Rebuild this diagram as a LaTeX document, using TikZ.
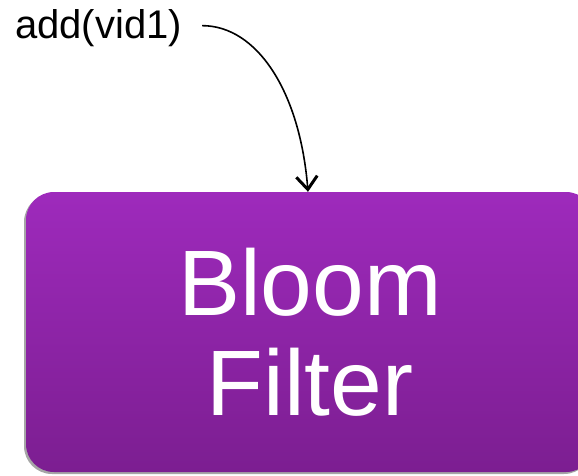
\documentclass[tikz,border=0pt]{standalone}
\usepackage{fontspec}
\setmainfont{Liberation Sans}
\usetikzlibrary{arrows.meta,shadows}

\definecolor{filtertop}{RGB}{158,42,188}
\definecolor{filterbot}{RGB}{124,30,145}

\begin{document}
\begin{tikzpicture}[x=1pt,y=1pt,>={Straight Barb[length=13pt,width=21pt,line width=3pt]}]
    \useasboundingbox (0,0) rectangle (578,-475);
    \clip (0,0) rectangle (578,-475);
    \node[anchor=base west,inner sep=0pt,font=\fontsize{40}{44}\selectfont] (add) at (15,-38) {add(vid1)};
    \node[rounded corners=28pt,minimum width=568pt,minimum height=280pt,
      top color=filtertop,bottom color=filterbot,text=white,align=center,
      font=\fontsize{93}{100}\selectfont,
      drop shadow={shadow xshift=-2pt,shadow yshift=-2pt,fill=black,opacity=0.35}]
      (bloom) at (310,-332) {Bloom\\Filter};
    \draw[->,line width=1.6pt] ([xshift=20pt,yshift=2pt]add.east) .. controls +(55,0) and +(-8,100) .. ([xshift=-2pt]bloom.north);
  \end{tikzpicture}
\end{document}
